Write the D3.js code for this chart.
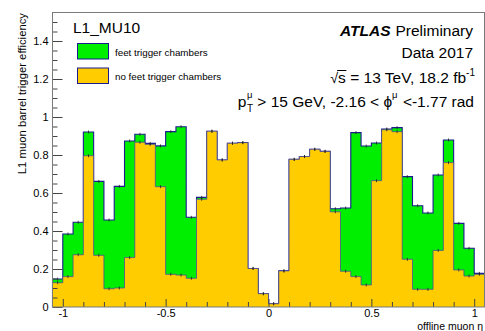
<!DOCTYPE html>
<html>
<head>
<meta charset="utf-8">
<script src="https://cdn.jsdelivr.net/npm/d3@7"></script>
<style>
  html, body { margin: 0; padding: 0; background: #fff; }
  svg { display: block; font-family: "Liberation Sans", Arial, Helvetica, sans-serif; }
  svg text { white-space: pre; }
</style>
</head>
<body>
<svg id="chart" width="485" height="331"></svg>
<script>
// ---------------- data ----------------
const binLowEdges = [-1.05,-1.00,-0.95,-0.90,-0.85,-0.80,-0.75,-0.70,-0.65,-0.60,-0.55,
  -0.50,-0.45,-0.40,-0.35,-0.30,-0.25,-0.20,-0.15,-0.10,-0.05,
  0.00,0.05,0.10,0.15,0.20,0.25,0.30,0.35,0.40,0.45,
  0.50,0.55,0.60,0.65,0.70,0.75,0.80,0.85,0.90,0.95,1.00];
const binWidth = 0.05;

const feetEff = [0.147,0.384,0.446,0.921,0.661,0.458,0.635,0.874,0.909,0.861,0.848,
  0.923,0.949,0.472,0.577,0.925,0.774,0.862,0.865,0.203,0.070,
  0.017,0.190,0.777,0.792,0.830,0.819,0.517,0.521,0.918,0.847,
  0.863,0.937,0.944,0.686,0.533,0.495,0.695,0.879,0.440,0.309,0.177];

const noFeetEff = [0.128,0.160,0.275,0.796,0.272,0.096,0.100,0.260,0.867,0.856,0.633,
  0.172,0.168,0.151,0.567,0.925,0.774,0.862,0.865,0.203,0.070,
  0.017,0.190,0.777,0.792,0.830,0.819,0.501,0.188,0.160,0.116,
  0.665,0.933,0.923,0.251,0.093,0.093,0.298,0.760,0.195,0.163,0.172];

const xMajorTicks = [-1, -0.5, 0, 0.5, 1];
const xTickLabels = ["-1", "-0.5", "0", "0.5", "1"];
const xMinorTicks = [-0.9,-0.8,-0.7,-0.6,-0.4,-0.3,-0.2,-0.1,0.1,0.2,0.3,0.4,0.6,0.7,0.8,0.9];
const yMajorTicks = [0, 0.2, 0.4, 0.6, 0.8, 1.0, 1.2, 1.4];
const yTickLabels = ["0", "0.2", "0.4", "0.6", "0.8", "1", "1.2", "1.4"];
const yMinorTicks = [0.05,0.1,0.15,0.25,0.3,0.35,0.45,0.5,0.55,0.65,0.7,0.75,0.85,0.9,0.95,
  1.05,1.1,1.15,1.25,1.3,1.35,1.45,1.5];

const legendLabels = ["feet trigger chambers", "no feet trigger chambers"];

// ---------------- layout ----------------
const svg = d3.select("#chart");
const x = d3.scaleLinear().domain([-1.05, 1.05]).range([52.5, 484.5]);
const y = d3.scaleLinear().domain([0, 1.55]).range([307, 12.5]);

const GREEN = "#00ee00", YELLOW = "#ffcc00", NAVY = "#1b1b8f";

function histPath(vals) {
  const pts = [[binLowEdges[0], 0]];
  vals.forEach((v, i) => {
    pts.push([binLowEdges[i], v]);
    pts.push([binLowEdges[i] + binWidth, v]);
  });
  pts.push([binLowEdges[vals.length - 1] + binWidth, 0]);
  return d3.line().x(d => x(d[0])).y(d => y(d[1]))(pts);
}

svg.append("rect").attr("x", 0).attr("y", 0).attr("width", 485).attr("height", 331).attr("fill", "#fff");

const plot = svg.append("g");
plot.append("path").attr("d", histPath(feetEff))
  .attr("fill", GREEN).attr("stroke", NAVY).attr("stroke-width", 1.1);
plot.append("path").attr("d", histPath(noFeetEff))
  .attr("fill", YELLOW).attr("stroke", "#4a4aa0").attr("stroke-width", 1).attr("stroke-opacity", 0.75);

// small error bars
[feetEff, noFeetEff].forEach(vals => {
  plot.selectAll(null).data(vals).enter().append("line")
    .attr("x1", (d, i) => x(binLowEdges[i] + binWidth / 2))
    .attr("x2", (d, i) => x(binLowEdges[i] + binWidth / 2))
    .attr("y1", d => y(d) - 1.5).attr("y2", d => y(d) + 1.5)
    .attr("stroke", "#222").attr("stroke-width", 0.8);
});

// ---------------- axes ----------------
const axisColor = "#444";
function styleAxis(g) {
  g.select(".domain").remove();
  g.selectAll(".tick line").attr("stroke", axisColor);
  g.selectAll(".tick text").attr("fill", "#000").attr("font-size", 11)
    .attr("font-family", "Liberation Sans, Arial, sans-serif");
}

svg.append("g").attr("transform", "translate(0,307)")
  .call(d3.axisBottom(x).tickValues(xMajorTicks).tickSize(-8).tickPadding(2.5)
    .tickFormat((d, i) => xTickLabels[i]))
  .call(styleAxis);
svg.append("g").attr("transform", "translate(0,307)")
  .call(d3.axisBottom(x).tickValues(xMinorTicks).tickSize(-5).tickFormat(""))
  .call(styleAxis);

svg.append("g").attr("transform", "translate(52.5,0)")
  .call(d3.axisLeft(y).tickValues(yMajorTicks).tickSize(-10).tickPadding(4)
    .tickFormat((d, i) => yTickLabels[i]))
  .call(styleAxis);
svg.append("g").attr("transform", "translate(52.5,0)")
  .call(d3.axisLeft(y).tickValues(yMinorTicks).tickSize(-5).tickFormat(""))
  .call(styleAxis);

// frame
svg.append("rect")
  .attr("x", x.range()[0]).attr("y", y.range()[1])
  .attr("width", x.range()[1] - x.range()[0]).attr("height", y.range()[0] - y.range()[1])
  .attr("fill", "none").attr("stroke", "#7a7a7a").attr("stroke-width", 1);

// axis titles
svg.append("text").attr("transform", "translate(26,13) rotate(-90)")
  .attr("text-anchor", "end").attr("font-size", 11.3).text("L1 muon barrel trigger efficiency");
svg.append("text").attr("x", 483).attr("y", 329.5).attr("text-anchor", "end")
  .attr("font-size", 10.5).text("offline muon η");

// ---------------- legend ----------------
svg.append("text").attr("x", 73).attr("y", 32.5).attr("font-size", 15.5).text("L1_MU10");
[GREEN, YELLOW].forEach((c, i) => {
  svg.append("rect").attr("x", 77.5).attr("y", 43.5 + i * 24.5).attr("width", 31).attr("height", 15.5)
    .attr("fill", c).attr("stroke", NAVY).attr("stroke-width", 1);
  svg.append("text").attr("x", 115).attr("y", 56 + i * 24.3).attr("font-size", 9.8).text(legendLabels[i]);
});

// ---------------- rich text on the right ----------------
function richLine(xRight, yBase, parts) {
  const g = svg.append("g");
  let cx = 0;
  const items = [];
  parts.forEach(p => {
    if (p.stack) {
      let w = 0;
      p.stack.forEach(s => {
        const t = g.append("text").attr("x", cx).attr("y", yBase + (s.shift || 0))
          .attr("font-size", s.size).text(s.t);
        w = Math.max(w, t.node().getComputedTextLength());
      });
      cx += w + (p.after || 0);
    } else {
      const t = g.append("text").attr("x", cx).attr("y", yBase + (p.shift || 0))
        .attr("font-size", p.size).attr("xml:space", "preserve").text(p.t);
      if (p.bold) t.attr("font-weight", "bold");
      if (p.italic) t.attr("font-style", "italic");
      const w = t.node().getComputedTextLength();
      items.push({ p, x0: cx, w });
      cx += w + (p.after || 0);
    }
  });
  g.attr("transform", `translate(${xRight - cx},0)`);
  return { g, items };
}

const FS = 15.5;
richLine(473, 35.5, [
  { t: "ATLAS", size: FS, bold: true, italic: true, after: 5 },
  { t: "Preliminary", size: FS }
]);
richLine(473, 58, [{ t: "Data 2017", size: FS }]);
const l3 = richLine(475, 82.5, [
  { t: "√", size: FS - 1 },
  { t: "s", size: FS },
  { t: " = 13 TeV, 18.2 fb", size: FS },
  { t: "-1", size: 10, shift: -7 }
]);
// overline of the square root
const sItem = l3.items[1];
l3.g.append("line").attr("x1", sItem.x0 - 1).attr("x2", sItem.x0 + sItem.w + 0.5)
  .attr("y1", 82.5 - 12).attr("y2", 82.5 - 12).attr("stroke", "#000").attr("stroke-width", 1);

richLine(474, 107, [
  { t: "p", size: FS, after: 0.5 },
  { stack: [{ t: "μ", size: 9.5, shift: -9 }, { t: "T", size: 10, shift: 5 }], after: 0 },
  { t: " > 15 GeV, -2.16 < ϕ", size: FS },
  { t: "μ", size: 9.5, shift: -9, after: 1 },
  { t: " <-1.77 rad", size: FS }
]);
</script>
</body>
</html>
